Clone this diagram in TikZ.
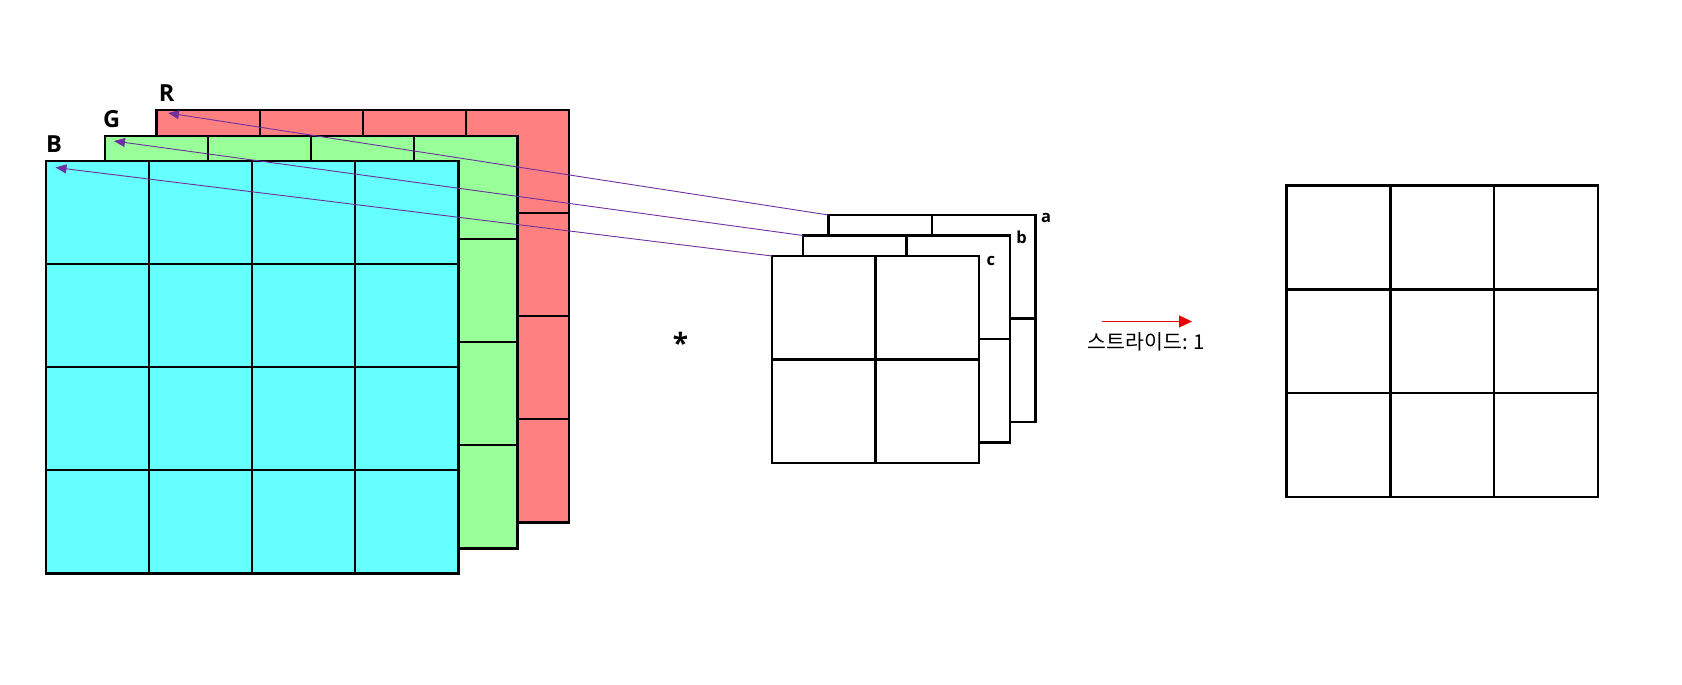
\documentclass[tikz,border=0pt]{standalone}
\usepackage{fontspec}
\newfontfamily\labfont{Open Sans}
\newfontfamily\krfont{Noto Sans CJK KR}
\usetikzlibrary{arrows.meta,calc}
\definecolor{cyanfill}{HTML}{66FFFF}
\definecolor{greenfill}{HTML}{99FF99}
\definecolor{redfill}{HTML}{FF8080}
\definecolor{arrowpurple}{HTML}{7030A0}
\definecolor{stridered}{HTML}{E80000}
\newcommand\featplane[6]{%
  \node[plane, fill=#6, minimum width={#4*#5pt}, minimum height={#4*#5pt}] (#1) at (#2,#3) {};
  \pgfmathtruncatemacro\nminus{#4-1}%
  \foreach \k in {1,...,\nminus}{%
    \pgfmathsetmacro\d{\k*#5}%
    \draw[gridline] ($(#1.north west)+(\d,0)$) -- ($(#1.south west)+(\d,0)$);
    \draw[gridline] ($(#1.north west)+(0,\d)$) -- ($(#1.north east)+(0,\d)$);
  }%
}
\begin{document}
\begin{tikzpicture}[x=1pt,y=-1pt,
  plane/.style={draw=black, line width=2.2pt, inner sep=0pt, outer sep=0pt, anchor=north west},
  gridline/.style={black, line width=2.2pt},
  chlabel/.style={font=\labfont\bfseries\fontsize{23.5}{25}\selectfont, inner sep=0pt},
  fltlabel/.style={font=\labfont\bfseries\fontsize{16.5}{18}\selectfont, inner sep=0pt},
  conn/.style={arrowpurple, line width=0.9pt, -{Triangle[length=11pt,width=9pt]}},
  stridearrow/.style={stridered, line width=1.2pt, -{Triangle[length=13pt,width=12pt]}}
]
\useasboundingbox (0,0) rectangle (1682,685);

% input channels
\featplane{R}{156.5}{110}{4}{103.125}{redfill}
\featplane{G}{105}{136}{4}{103.125}{greenfill}
\featplane{B}{46}{161}{4}{103.125}{cyanfill}

% filters
\featplane{fa}{828.5}{215}{2}{103.5}{white}
\featplane{fb}{803}{235.5}{2}{103.5}{white}
\featplane{fc}{772}{256}{2}{103.5}{white}

% output
\featplane{out}{1286.5}{185.5}{3}{103.9}{white}

% labels
\node[chlabel] (labR) at (166.7,92.7) {R};
\node[chlabel] (labG) at (111.7,119.3) {G};
\node[chlabel] (labB) at (54,144) {B};
\node[fltlabel] (laba) at (1046,218) {a};
\node[fltlabel] (labb) at (1021.7,237.8) {b};
\node[fltlabel] (labc) at (990.8,260.8) {c};

\node[font=\labfont\bfseries\fontsize{28}{30}\selectfont, inner sep=0pt, anchor=base] (star) at (680.5,353) {*};

% stride
\coordinate (s1) at (1102,321.5);
\coordinate (s2) at (1192,321.5);
\draw[stridearrow] (s1) -- (s2);
\node[font=\krfont\fontsize{20.5}{22}\selectfont, inner sep=0pt] (stridetxt) at (1146.5,341.7) {스트라이드: 1};

% connectors
\coordinate (tR) at ($(R.north west)+(11.5,3)$);
\coordinate (tG) at ($(G.north west)+(9,5)$);
\coordinate (tB) at ($(B.north west)+(9.5,6.5)$);
\draw[conn] (fa.north west) -- (tR);
\draw[conn] (fb.north west) -- (tG);
\draw[conn] (fc.north west) -- (tB);
\end{tikzpicture}
\end{document}
